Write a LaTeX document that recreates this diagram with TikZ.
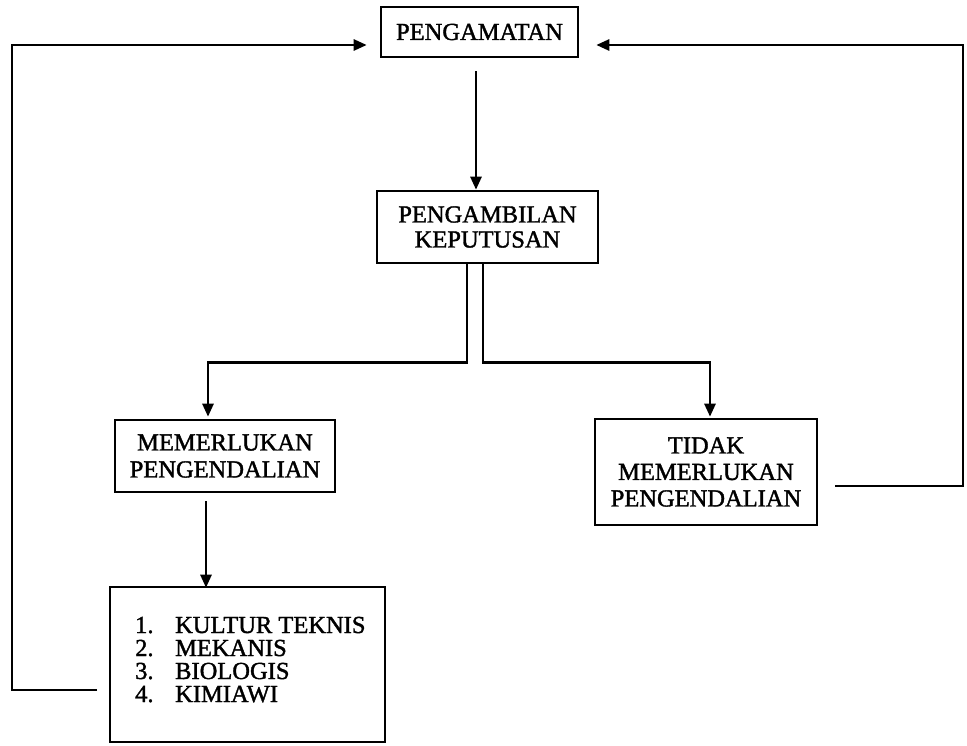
\documentclass[tikz,border=0pt]{standalone}
\usepackage{fontspec}
\setmainfont{Liberation Serif}[FakeBold=1.5]
\usetikzlibrary{arrows.meta,calc}
\begin{document}
\begin{tikzpicture}[x=1pt,y=-1pt,
  box/.style={draw,line width=2.6pt,inner sep=0pt,align=center,
    font=\fontsize{24.5}{26}\selectfont},
  item/.style={anchor=base west,inner sep=0pt,text height=16pt,text depth=5pt,
    font=\fontsize{24.5}{26}\selectfont},
  conn/.style={line width=2.6pt},
  arr/.style={conn,-{Triangle[length=13pt,width=11pt]}}]
\useasboundingbox (0,0) rectangle (967,746);
\node[box,minimum width=197,minimum height=50] (amat) at (479.5,32) {PENGAMATAN};
\node[box,minimum width=221,minimum height=72,font=\fontsize{24.5}{25}\selectfont] (ambil) at (487.5,227) {PENGAMBILAN\\KEPUTUSAN};
\node[box,minimum width=220,minimum height=72,font=\fontsize{24.5}{27}\selectfont] (memer) at (225,456) {MEMERLUKAN\\PENGENDALIAN};
\node[box,minimum width=222,minimum height=106,font=\fontsize{24.5}{26.5}\selectfont] (tidak) at (706,472) {TIDAK\\MEMERLUKAN\\PENGENDALIAN};
\node[box,minimum width=275,minimum height=155] (kultur) at (247.5,664.5) {};
\node[item] (k1) at (135,633) {\makebox[40pt][l]{1.}KULTUR TEKNIS};
\node[item] (k2) at (135,656) {\makebox[40pt][l]{2.}MEKANIS};
\node[item] (k3) at (135,679) {\makebox[40pt][l]{3.}BIOLOGIS};
\node[item] (k4) at (135,702) {\makebox[40pt][l]{4.}KIMIAWI};
% main arrow
\draw[arr] ($(amat.south)+(-3.5,13)$) -- ($(ambil.north)+(-11.5,0)$);
% double line branches
\draw[arr] ($(ambil.south)+(-20.5,0)$) -- ++(0,98) -| ($(memer.north)+(-17,-2)$);
\draw[arr] ($(ambil.south)+(-4.5,0)$) -- ++(0,98) -| ($(tidak.north)+(4,-1)$);
% memer to kultur
\draw[arr] ($(memer.south)+(-19,8)$) -- ($(kultur.north)+(-41.5,2)$);
% feedback loops
\coordinate (fbL) at (97,690);
\coordinate (fbR) at (835,486);
\draw[arr] (fbL) -- (12,690) |- ($(amat.west)+(-13,13)$);
\draw[arr] (fbR) -- (963,486) |- ($(amat.east)+(17,13)$);
\end{tikzpicture}
\end{document}
